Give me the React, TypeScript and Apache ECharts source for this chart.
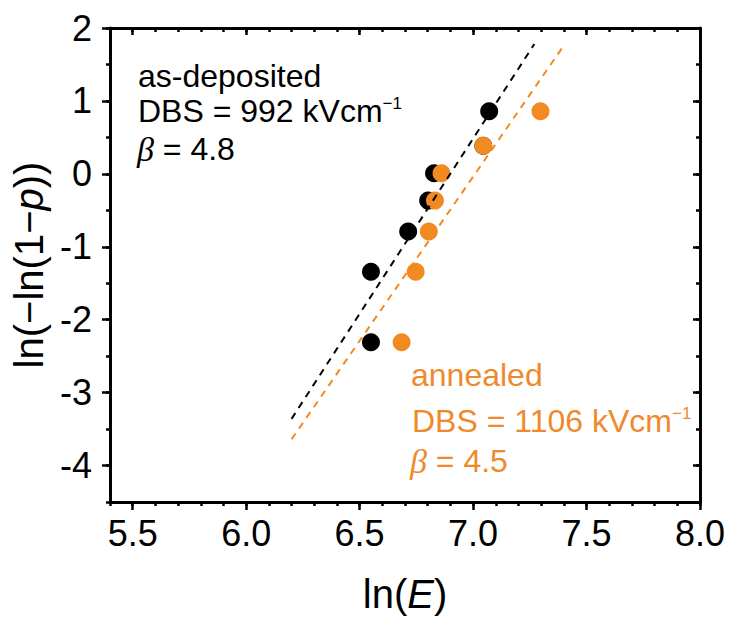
import React, { useEffect, useRef } from "react";
import * as echarts from "echarts";

// Weibull plot data: ln(E) vs ln(-ln(1-p))
const asDepositedLnE = [6.55, 6.55, 6.714, 6.802, 6.828, 7.045, 7.071];
const asDepositedWeibull = [-2.309, -1.343, -0.79, -0.367, 0.008, 0.386, 0.858];
const annealedLnE = [6.685, 6.747, 6.805, 6.832, 6.861, 7.045, 7.297];
const annealedWeibull = [-2.309, -1.343, -0.79, -0.367, 0.008, 0.386, 0.858];

// Fit lines (end points)
const asDepositedFitX = [6.2, 7.27];
const asDepositedFitY = [-3.36, 1.78];
const annealedFitX = [6.2, 7.4];
const annealedFitY = [-3.64, 1.76];

const xMajorTicks = [5.5, 6.0, 6.5, 7.0, 7.5, 8.0];
const yMajorTicks = [-4, -3, -2, -1, 0, 1, 2];

const FONT = "'Liberation Sans', Arial, Helvetica, sans-serif";
const SERIF = "'Liberation Serif', 'DejaVu Serif', serif";
const ORANGE = "#F28A22";
const ORANGE_TEXT = "#EE8A2C";

const X_MIN = 5.4;
const X_MAX = 8.0;
const Y_MIN = -4.5;
const Y_MAX = 2;

function range(a: number, b: number, step: number): number[] {
  const out: number[] = [];
  const n = Math.round((b - a) / step);
  for (let i = 0; i <= n; i++) out.push(Math.round((a + i * step) * 1000) / 1000);
  return out;
}

export default function App() {
  const ref = useRef<HTMLDivElement>(null);

  useEffect(() => {
    if (!ref.current) return;
    const chart = echarts.init(ref.current, undefined, { renderer: "svg" });
    const xMinor = range(X_MIN, X_MAX, 0.1);
    const yMinor = range(Y_MIN, Y_MAX, 0.5);

    const baseX = {
      type: "value",
      gridIndex: 0,
      min: X_MIN,
      max: X_MAX,
      splitLine: { show: false },
    };
    const baseY = {
      type: "value",
      gridIndex: 0,
      min: Y_MIN,
      max: Y_MAX,
      splitLine: { show: false },
    };
    const frameLine = { show: true, onZero: false, lineStyle: { color: "#000", width: 3 } };
    const noLine = { show: false, onZero: false };
    const tickStyle = { color: "#000", width: 2.5 };

    const pair = (xs: number[], ys: number[]) => xs.map((x, i) => [x, ys[i]]);

    const textBase = { fontSize: 32, fontFamily: FONT, verticalAlign: "middle" };

    chart.setOption({
      animation: false,
      backgroundColor: "#fff",
      grid: { left: 110, right: 31, top: 28, bottom: 122, containLabel: false },
      xAxis: [
        {
          ...baseX,
          position: "bottom",
          axisLine: frameLine,
          axisTick: { show: true, inside: false, length: 8, customValues: xMajorTicks, lineStyle: tickStyle },
          axisLabel: {
            show: true,
            customValues: xMajorTicks,
            formatter: (v: number) => v.toFixed(1),
            fontSize: 36,
            fontFamily: FONT,
            color: "#000",
            margin: 13,
          },
          name: "ln({i|E})",
          nameLocation: "middle",
          nameGap: 72,
          nameTextStyle: {
            fontSize: 40,
            fontFamily: FONT,
            color: "#000",
            rich: { i: { fontSize: 40, fontFamily: FONT, fontStyle: "italic", color: "#000" } },
          },
        },
        {
          ...baseX,
          position: "bottom",
          axisLine: noLine,
          axisTick: { show: true, inside: false, length: 4, customValues: xMinor, lineStyle: tickStyle },
          axisLabel: { show: false },
        },
        {
          ...baseX,
          position: "top",
          axisLine: frameLine,
          axisTick: { show: true, inside: true, length: 7, customValues: xMajorTicks, lineStyle: tickStyle },
          axisLabel: { show: false },
        },
        {
          ...baseX,
          position: "top",
          axisLine: noLine,
          axisTick: { show: true, inside: true, length: 4, customValues: xMinor, lineStyle: tickStyle },
          axisLabel: { show: false },
        },
      ],
      yAxis: [
        {
          ...baseY,
          position: "left",
          axisLine: frameLine,
          axisTick: { show: true, inside: false, length: 8, customValues: yMajorTicks, lineStyle: tickStyle },
          axisLabel: {
            show: true,
            customValues: yMajorTicks,
            formatter: (v: number) => String(v),
            fontSize: 36,
            fontFamily: FONT,
            color: "#000",
            margin: 18,
          },
          name: "ln(−ln(1−{i|p}))",
          nameLocation: "middle",
          nameGap: 58,
          nameTextStyle: {
            fontSize: 40,
            fontFamily: FONT,
            color: "#000",
            rich: { i: { fontSize: 40, fontFamily: FONT, fontStyle: "italic", color: "#000" } },
          },
        },
        {
          ...baseY,
          position: "left",
          axisLine: noLine,
          axisTick: { show: true, inside: false, length: 4, customValues: yMinor, lineStyle: tickStyle },
          axisLabel: { show: false },
        },
        {
          ...baseY,
          position: "right",
          axisLine: frameLine,
          axisTick: { show: true, inside: true, length: 7, customValues: yMajorTicks, lineStyle: tickStyle },
          axisLabel: { show: false },
        },
        {
          ...baseY,
          position: "right",
          axisLine: noLine,
          axisTick: { show: true, inside: true, length: 4, customValues: yMinor, lineStyle: tickStyle },
          axisLabel: { show: false },
        },
      ],
      series: [
        {
          name: "as-deposited",
          type: "scatter",
          xAxisIndex: 0,
          yAxisIndex: 0,
          symbol: "circle",
          symbolSize: 18,
          itemStyle: { color: "#000", opacity: 1 },
          data: pair(asDepositedLnE, asDepositedWeibull),
          z: 2,
        },
        {
          name: "annealed",
          type: "scatter",
          xAxisIndex: 0,
          yAxisIndex: 0,
          symbol: "circle",
          symbolSize: 18,
          itemStyle: { color: ORANGE, opacity: 1 },
          data: pair(annealedLnE, annealedWeibull),
          z: 3,
        },
        {
          name: "as-deposited fit",
          type: "line",
          xAxisIndex: 0,
          yAxisIndex: 0,
          showSymbol: false,
          symbol: "none",
          lineStyle: { color: "#000", width: 2, type: [7, 6] },
          data: pair(asDepositedFitX, asDepositedFitY),
          z: 4,
        },
        {
          name: "annealed fit",
          type: "line",
          xAxisIndex: 0,
          yAxisIndex: 0,
          showSymbol: false,
          symbol: "none",
          lineStyle: { color: ORANGE, width: 2, type: [7, 6] },
          data: pair(annealedFitX, annealedFitY),
          z: 4,
        },
      ],
      graphic: [
        {
          type: "text",
          x: 138,
          y: 76,
          style: { ...textBase, text: "as-deposited", fill: "#000" },
        },
        {
          type: "text",
          x: 138,
          y: 111,
          style: {
            ...textBase,
            text: "DBS = 992 kVcm{s|−1}",
            fill: "#000",
            rich: { s: { fontSize: 17, fontFamily: FONT, fill: "#000", verticalAlign: "top" } },
          },
        },
        {
          type: "text",
          x: 137,
          y: 149,
          style: {
            ...textBase,
            text: "{b|β} = 4.8",
            fill: "#000",
            rich: { b: { fontSize: 34, fontFamily: SERIF, fontStyle: "italic", fill: "#000" } },
          },
        },
        {
          type: "text",
          x: 411,
          y: 375,
          style: { ...textBase, text: "annealed", fill: ORANGE_TEXT },
        },
        {
          type: "text",
          x: 412,
          y: 421,
          style: {
            ...textBase,
            text: "DBS = 1106 kVcm{s|−1}",
            fill: ORANGE_TEXT,
            rich: { s: { fontSize: 17, fontFamily: FONT, fill: ORANGE_TEXT, verticalAlign: "top" } },
          },
        },
        {
          type: "text",
          x: 410,
          y: 461,
          style: {
            ...textBase,
            text: "{b|β} = 4.5",
            fill: ORANGE_TEXT,
            rich: { b: { fontSize: 34, fontFamily: SERIF, fontStyle: "italic", fill: ORANGE_TEXT } },
          },
        },
      ],
    });
    return () => chart.dispose();
  }, []);

  return (
    <div
      ref={ref}
      style={{ position: "fixed", left: 0, top: 0, width: 731, height: 624, background: "#fff" }}
    />
  );
}
